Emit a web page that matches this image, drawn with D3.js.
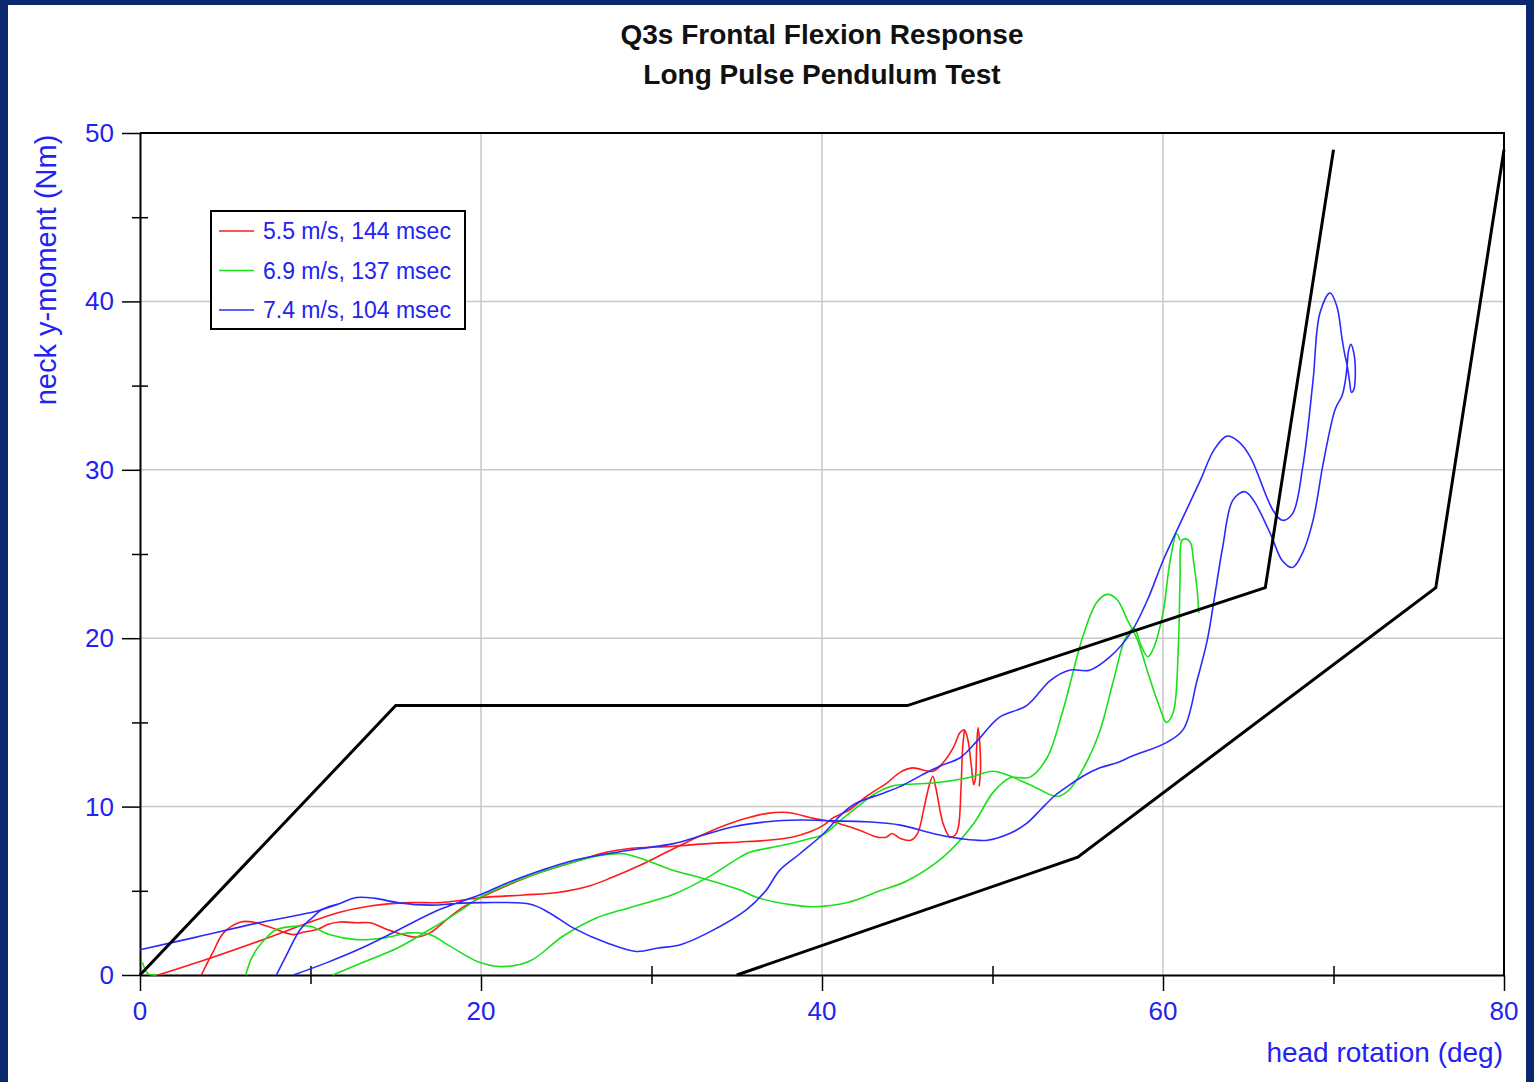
<!DOCTYPE html>
<html>
<head>
<meta charset="utf-8">
<script src="https://cdn.jsdelivr.net/npm/d3@7"></script>
<style>
  body { margin: 0; background: #0a2870; }
  svg { display: block; }
</style>
</head>
<body>
<div id="chart"></div>
<script>
// [head rotation (deg), neck y-moment (Nm)]
var redOut = [[3.6,0],[4.3,1.4],[4.9,2.5],[5.9,3.15],[6.6,3.15],[7.6,2.85],[9.0,2.4],[9.6,2.55],[10.4,2.7],[11.0,3.0],
  [11.7,3.15],[12.7,3.1],[13.5,3.1],[14.5,2.7],[15.4,2.4],[16.2,2.25],[17.0,2.5],[18.0,3.3],[18.9,4.0],[19.9,4.55],
  [21.5,5.3],[23.5,6.1],[25.4,6.7],[27.4,7.3],[28.6,7.5],[31.3,7.65],[33.3,7.8],[35.2,7.9],[36.8,8.0],[38.3,8.2],
  [39.3,8.5],[40.1,8.9],[40.6,9.3],[41.6,9.8],[42.6,10.6],[43.8,11.4],[44.6,12.05],[45.3,12.3],[46.5,12.1],[47.1,12.6],
  [47.7,13.5],[48.1,14.4],[48.35,14.55],[48.55,14.0],[48.75,12.5],[48.9,11.3],[49.0,11.7],[49.07,13.5],[49.15,14.7],
  [49.25,13.8],[49.3,12.3],[49.22,11.2]];
var redBack = [[1.05,0],[4.1,1.0],[7.2,2.1],[9.6,3.0],[11.6,3.7],[13.5,4.1],[15.8,4.3],[17.6,4.3],[20.1,4.6],[22.5,4.75],
  [24.5,4.9],[26.4,5.3],[27.7,5.8],[29.3,6.5],[30.9,7.3],[32.3,8.0],[33.6,8.6],[35.2,9.2],[36.8,9.6],[38.0,9.65],
  [39.5,9.3],[40.6,9.1],[42.2,8.6],[43.2,8.2],[43.8,8.2],[44.1,8.4],[44.6,8.1],[45.2,8.0],[45.6,8.4],[46.0,10.0],
  [46.3,11.3],[46.5,11.8],[46.7,11.0],[47.1,9.0],[47.5,8.2],[47.8,8.3],[48.0,8.8],[48.15,11.0],[48.25,13.5],[48.35,14.5]];

var greenOut = [[11.3,0],[13.2,0.8],[15.1,1.6],[17,2.7],[18.9,3.9],[19.9,4.6],[21.5,5.35],[23.5,6.1],[25.4,6.7],[27.0,7.1],
  [28.3,7.2],[29.3,6.95],[31.3,6.2],[32.8,5.8],[35.2,5.05],[36.2,4.6],[38,4.2],[39.5,4.05],[41.5,4.3],[43.4,5.0],
  [45,5.6],[47.1,7.0],[48.9,9.0],[50.0,10.8],[51.0,11.7],[52.2,11.75],[53.2,12.9],[54.1,15.6],[54.5,17.1],[55.3,20.1],
  [56.1,22.1],[56.7,22.6],[57.3,22.3],[57.9,21.1],[58.5,19.9],[59.1,18.0],[59.8,15.9],[60.2,15.0],[60.6,15.6],[60.9,19.5],
  [61.0,23.5],[61.1,25.8],[61.3,25.9],[61.6,25.7],[61.8,24.5],[62.0,22.9],[62.1,21.5]];
var greenBack = [[6.2,0],[6.5,0.9],[6.9,1.6],[7.4,2.2],[8.0,2.7],[9.2,2.9],[10,2.9],[11.1,2.4],[12.7,2.1],[14.3,2.2],
  [15.8,2.5],[17,2.4],[18.2,1.7],[19.9,0.75],[21.2,0.5],[22.9,0.85],[24.8,2.3],[26.8,3.4],[28.7,4.0],[31.3,4.8],
  [33.3,5.8],[35.2,7.0],[35.8,7.3],[37.7,7.7],[39.3,8.1],[40.1,8.35],[41.1,9.2],[42.1,10.0],[43.0,10.7],[44.0,11.2],
  [44.6,11.3],[46.5,11.4],[48.5,11.7],[50.0,12.1],[50.8,11.9],[52.4,11.2],[53.8,10.6],[54.5,11.0],[55.5,12.6],[56.3,14.5],
  [57.1,17.5],[57.8,20.0],[58.3,20.6],[58.7,19.6],[59.1,18.9],[59.4,19.3],[60.0,21.5],[60.4,24.5],[60.8,26.2],[61.0,25.8]];
var greenStub = [[0.15,0.75],[0.45,0.1],[1.0,0]];

var blueTrace = [[0,1.5],[3.3,2.25],[7.2,3.15],[10.4,3.8],[11.6,4.2],[12.7,4.6],[13.8,4.55],[15.1,4.3],[17.1,4.15],[18.5,4.25],
  [20.1,4.3],[22.9,4.2],[24.0,3.7],[25.4,2.8],[27.4,1.9],[29.1,1.4],[30.4,1.6],[31.7,1.8],[33.3,2.5],[35.6,3.9],
  [36.7,5.0],[37.5,6.2],[38.7,7.2],[40.1,8.4],[41.2,9.6],[42.0,10.2],[43.6,10.8],[44.6,11.2],[45.9,11.9],[46.9,12.4],
  [48.1,12.9],[49.1,13.9],[50.4,15.3],[52.0,16.0],[53.4,17.5],[54.5,18.1],[55.7,18.1],[56.9,18.9],[58.1,20.3],[59.1,22.3],
  [60.0,24.6],[61.0,26.8],[62.2,29.4],[63.0,31.2],[63.75,32.0],[64.4,31.7],[65.1,30.8],[66.45,27.6],[67.0,27.0],
  [67.6,27.4],[68.2,30.2],[68.8,35.3],[69.2,39.3],[69.8,40.5],[70.2,39.7],[70.5,37.8],[70.65,36.9],[70.8,36.2],
  [70.95,35.2],[71.05,34.6],[71.2,34.8],[71.28,35.8],[71.2,36.9],[71.02,37.45],[70.87,37.0],[70.8,36.2],[70.68,35.2],
  [70.5,34.4],[70.1,33.6],[69.4,30.4],[68.8,27.0],[68.2,25.1],
  [67.6,24.2],[67.0,24.6],[66.3,26.2],[65.3,28.2],[64.8,28.7],[64.1,28.2],[63.5,25.4],[63.0,22.3],[62.6,19.9],[62.0,17.5],
  [61.2,14.6],[60.2,13.8],[58.2,13.0],[57.3,12.6],[56.3,12.3],[55.3,11.8],[54.4,11.2],[53.6,10.6],[52.8,9.8],[52.0,9.0],
  [51.0,8.4],[49.7,8.0],[48.1,8.1],[46.5,8.4],[44.6,8.9],[42.6,9.1],[40.6,9.15],[38.7,9.2],[36.8,9.1],[34.8,8.8],
  [33.0,8.3],[31.3,7.8],[29.3,7.5],[27.4,7.2],[25.4,6.8],[23.5,6.2],[21.5,5.45],[19.9,4.75],[17.6,3.9],[15,2.6],
  [13,1.6],[11,0.75],[9,0]];
var blueStub = [[8.0,0],[8.6,1.2],[9.4,2.7],[10.1,3.4],[10.7,3.9],[11.6,4.2]];

// corridor limits
var corridorUpper = [[0,0],[15,16],[45,16],[66,23],[70,49]];
var corridorLower = [[35,0],[55,7],[76,23],[80,49]];

var legendLabels = ["5.5 m/s, 144 msec", "6.9 m/s, 137 msec", "7.4 m/s, 104 msec"];
var seriesColors = ["#ff1a1a", "#1ae01a", "#2a2aff"];
var xTicks = [0, 20, 40, 60, 80];
var yTicks = [0, 10, 20, 30, 40, 50];

var width = 1534, height = 1082;
var textBlue = "#2323f0";

var svg = d3.select("#chart").append("svg")
    .attr("width", width)
    .attr("height", height);

svg.append("rect")
    .attr("x", 8).attr("y", 5)
    .attr("width", 1518).attr("height", height)
    .attr("fill", "#ffffff");

var x = d3.scaleLinear().domain([0, 80]).range([140, 1504]);
var y = d3.scaleLinear().domain([0, 50]).range([975, 133]);

// grid
svg.append("g").selectAll("line")
    .data([20, 40, 60])
    .join("line")
    .attr("x1", d => x(d)).attr("x2", d => x(d))
    .attr("y1", y(50)).attr("y2", y(0))
    .attr("stroke", "#c8c8c8").attr("stroke-width", 1.5);
svg.append("g").selectAll("line")
    .data([10, 20, 30, 40])
    .join("line")
    .attr("x1", x(0)).attr("x2", x(80))
    .attr("y1", d => y(d)).attr("y2", d => y(d))
    .attr("stroke", "#c8c8c8").attr("stroke-width", 1.5);

// axes
var xAxis = d3.axisBottom(x).tickValues(d3.range(0, 81, 10))
    .tickSize(0).tickFormat("");
var yAxis = d3.axisLeft(y).tickValues(d3.range(0, 51, 5))
    .tickSize(0).tickFormat("");

var gx = svg.append("g").attr("transform", "translate(0," + y(0) + ")").call(xAxis);
gx.select(".domain").attr("stroke", "#000").attr("stroke-width", 2);
gx.selectAll(".tick line")
    .attr("stroke", "#000").attr("stroke-width", 1.5)
    .attr("y1", d => d % 20 === 0 ? 0 : -9)
    .attr("y2", d => d % 20 === 0 ? 16 : 9);

var gy = svg.append("g").attr("transform", "translate(" + x(0) + ",0)").call(yAxis);
gy.select(".domain").attr("stroke", "#000").attr("stroke-width", 2);
gy.selectAll(".tick line")
    .attr("stroke", "#000").attr("stroke-width", 1.5)
    .attr("x1", d => d % 10 === 0 ? -18 : -8)
    .attr("x2", d => d % 10 === 0 ? 0 : 8);

// top and right frame
svg.append("path")
    .attr("d", "M" + x(0) + "," + y(50) + "H" + x(80) + "V" + y(0))
    .attr("fill", "none").attr("stroke", "#000").attr("stroke-width", 2);

// tick labels
svg.append("g").selectAll("text")
    .data(xTicks)
    .join("text")
    .attr("x", d => x(d)).attr("y", 1020)
    .attr("text-anchor", "middle")
    .attr("font-family", "Liberation Sans, Arial, sans-serif")
    .attr("font-size", 26)
    .attr("fill", textBlue)
    .text(d => d);
svg.append("g").selectAll("text")
    .data(yTicks)
    .join("text")
    .attr("x", 114).attr("y", d => y(d) + 9)
    .attr("text-anchor", "end")
    .attr("font-family", "Liberation Sans, Arial, sans-serif")
    .attr("font-size", 26)
    .attr("fill", textBlue)
    .text(d => d);

// axis titles
svg.append("text")
    .attr("transform", "translate(56,270) rotate(-90)")
    .attr("text-anchor", "middle")
    .attr("font-family", "Liberation Sans, Arial, sans-serif")
    .attr("font-size", 29)
    .attr("fill", textBlue)
    .text("neck y-moment (Nm)");
svg.append("text")
    .attr("x", 1503).attr("y", 1062)
    .attr("text-anchor", "end")
    .attr("font-family", "Liberation Sans, Arial, sans-serif")
    .attr("font-size", 28)
    .attr("fill", textBlue)
    .text("head rotation (deg)");

// title
svg.append("text")
    .attr("x", 822).attr("y", 44)
    .attr("text-anchor", "middle")
    .attr("font-family", "Liberation Sans, Arial, sans-serif")
    .attr("font-weight", "bold")
    .attr("font-size", 28)
    .attr("fill", "#111")
    .text("Q3s Frontal Flexion Response");
svg.append("text")
    .attr("x", 822).attr("y", 84)
    .attr("text-anchor", "middle")
    .attr("font-family", "Liberation Sans, Arial, sans-serif")
    .attr("font-weight", "bold")
    .attr("font-size", 28)
    .attr("fill", "#111")
    .text("Long Pulse Pendulum Test");

// curves
var line = d3.line()
    .x(d => x(d[0]))
    .y(d => y(d[1]))
    .curve(d3.curveCatmullRom.alpha(0.5));
var straight = d3.line()
    .x(d => x(d[0]))
    .y(d => y(d[1]));

var curves = [
    [redOut, 0], [redBack, 0],
    [greenOut, 1], [greenBack, 1], [greenStub, 1],
    [blueTrace, 2], [blueStub, 2]
];
svg.append("g").selectAll("path")
    .data(curves)
    .join("path")
    .attr("d", d => line(d[0]))
    .attr("fill", "none")
    .attr("stroke", d => seriesColors[d[1]])
    .attr("stroke-width", 1.6)
    .attr("stroke-linejoin", "round");

svg.append("g").selectAll("path")
    .data([corridorUpper, corridorLower])
    .join("path")
    .attr("d", straight)
    .attr("fill", "none")
    .attr("stroke", "#000")
    .attr("stroke-width", 3);

// legend
var legend = svg.append("g");
legend.append("rect")
    .attr("x", 211).attr("y", 211)
    .attr("width", 254).attr("height", 118)
    .attr("fill", "#fff")
    .attr("stroke", "#000").attr("stroke-width", 2);
var items = legend.selectAll("g")
    .data(legendLabels)
    .join("g")
    .attr("transform", (d, i) => "translate(0," + (231 + i * 39.5) + ")");
items.append("line")
    .attr("x1", 219).attr("x2", 254)
    .attr("stroke", (d, i) => seriesColors[i])
    .attr("stroke-width", 1.6);
items.append("text")
    .attr("x", 263).attr("y", 8)
    .attr("font-family", "Liberation Sans, Arial, sans-serif")
    .attr("font-size", 23)
    .attr("fill", textBlue)
    .text(d => d);
</script>
</body>
</html>
